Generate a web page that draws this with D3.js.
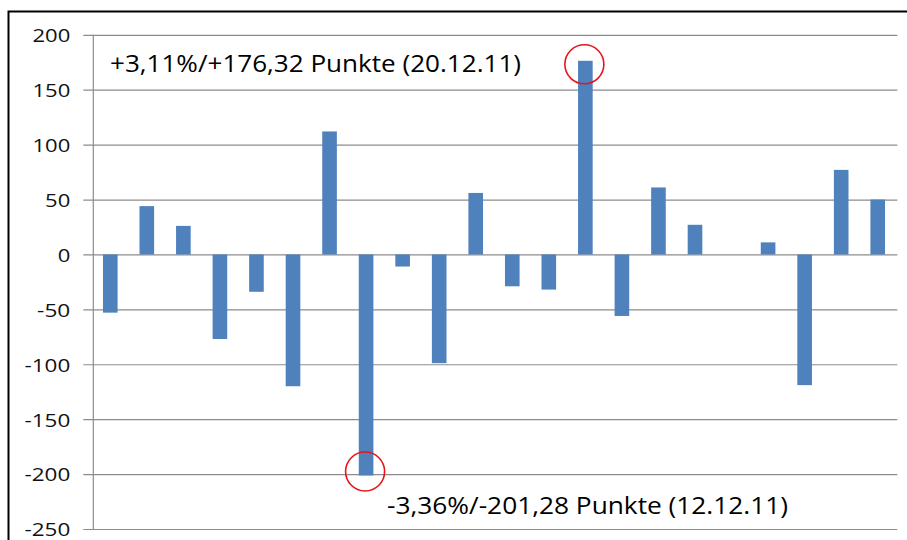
<!DOCTYPE html>
<html>
<head>
<meta charset="utf-8">
<script src="https://cdn.jsdelivr.net/npm/d3@7"></script>
<style>
  body { margin: 0; background: #fff; }
  svg { display: block; font-family: "Open Sans", sans-serif; }
</style>
</head>
<body>
<svg width="907" height="540"></svg>
<script>
// daily DAX changes in points, December 2011
const dates = ["01.12.11", "02.12.11", "05.12.11", "06.12.11", "07.12.11", "08.12.11",
  "09.12.11", "12.12.11", "13.12.11", "14.12.11", "15.12.11", "16.12.11", "19.12.11",
  "20.12.11", "21.12.11", "22.12.11", "23.12.11", "26.12.11", "27.12.11", "28.12.11",
  "29.12.11", "30.12.11"];
const points = [-53, 44, 26, -77, -34, -120, 112, -201.28, -11, -99, 56, -29, -32,
  176.32, -56, 61, 27, 0, 11, -119, 77, 50];
const yTicks = [-250, -200, -150, -100, -50, 0, 50, 100, 150, 200];

// highlighted days and their labels
const markDates = ["20.12.11", "12.12.11"];
const markLabels = ["+3,11%/+176,32 Punkte (20.12.11)", "-3,36%/-201,28 Punkte (12.12.11)"];

const svg = d3.select("svg");

const plot_left = 93.3, plot_right = 897.3, plot_top = 34.8, plot_bottom = 529;

let x = d3.scaleBand()
  .domain(dates)
  .range([92, 896])
  .paddingInner(0.6)
  .paddingOuter(0.3);

let y = d3.scaleLinear()
  .domain([-250, 200])
  .range([plot_bottom, plot_top]);

// outer frame (right and bottom edges fall outside the picture)
svg.append("rect")
  .attr("x", 8.5)
  .attr("y", 11.5)
  .attr("width", 920)
  .attr("height", 560)
  .attr("fill", "none")
  .attr("stroke", "#000")
  .attr("stroke-width", 2);

// gridlines + tick stubs + labels (plain hyphen for negatives)
let yAxis = d3.axisLeft(y)
  .tickValues(yTicks)
  .tickSize(-(plot_right - plot_left + 10))
  .tickPadding(13)
  .tickFormat(d => String(d));

let ga = svg.append("g")
  .attr("transform", "translate(" + (plot_left - 10) + ",0)")
  .call(yAxis);
ga.select(".domain").remove();
ga.selectAll(".tick line")
  .attr("stroke", "#8c8c8c")
  .attr("stroke-width", 1.2);
ga.selectAll(".tick text")
  .attr("fill", "#111")
  .attr("font-size", 19)
  .attr("font-family", "'Open Sans', sans-serif")
  .attr("dy", "0.36em")
  .attr("textLength", d => {
    let s = String(d);
    let digits = s.replace("-", "").length;
    return digits * 12.6 + (s[0] === "-" ? 8 : 0);
  })
  .attr("lengthAdjust", "spacingAndGlyphs");

// vertical axis line
svg.append("line")
  .attr("x1", plot_left).attr("x2", plot_left)
  .attr("y1", plot_top).attr("y2", plot_bottom)
  .attr("stroke", "#8c8c8c")
  .attr("stroke-width", 1.2);

// bars
svg.append("g")
  .selectAll("rect")
  .data(dates)
  .enter()
  .append("rect")
  .attr("x", d => x(d))
  .attr("width", x.bandwidth())
  .attr("y", (d, i) => y(Math.max(0, points[i])))
  .attr("height", (d, i) => Math.abs(y(points[i]) - y(0)))
  .attr("fill", "#4f81bd");

// red circles on the extremes
svg.append("g")
  .selectAll("circle")
  .data(markDates)
  .enter()
  .append("circle")
  .attr("cx", d => x(d) + x.bandwidth() / 2 - 1)
  .attr("cy", d => {
    let v = points[dates.indexOf(d)];
    return y(v) + (v > 0 ? 3.5 : -4);
  })
  .attr("r", 19.5)
  .attr("fill", "none")
  .attr("stroke", "#e8141b")
  .attr("stroke-width", 1.6);

// annotation texts
svg.append("text")
  .attr("x", 110)
  .attr("y", 72)
  .attr("font-size", 24)
  .attr("fill", "#000")
  .attr("textLength", 411)
  .attr("lengthAdjust", "spacingAndGlyphs")
  .text(markLabels[0]);

svg.append("text")
  .attr("x", 387)
  .attr("y", 514)
  .attr("font-size", 24)
  .attr("fill", "#000")
  .attr("textLength", 401)
  .attr("lengthAdjust", "spacingAndGlyphs")
  .text(markLabels[1]);
</script>
</body>
</html>
